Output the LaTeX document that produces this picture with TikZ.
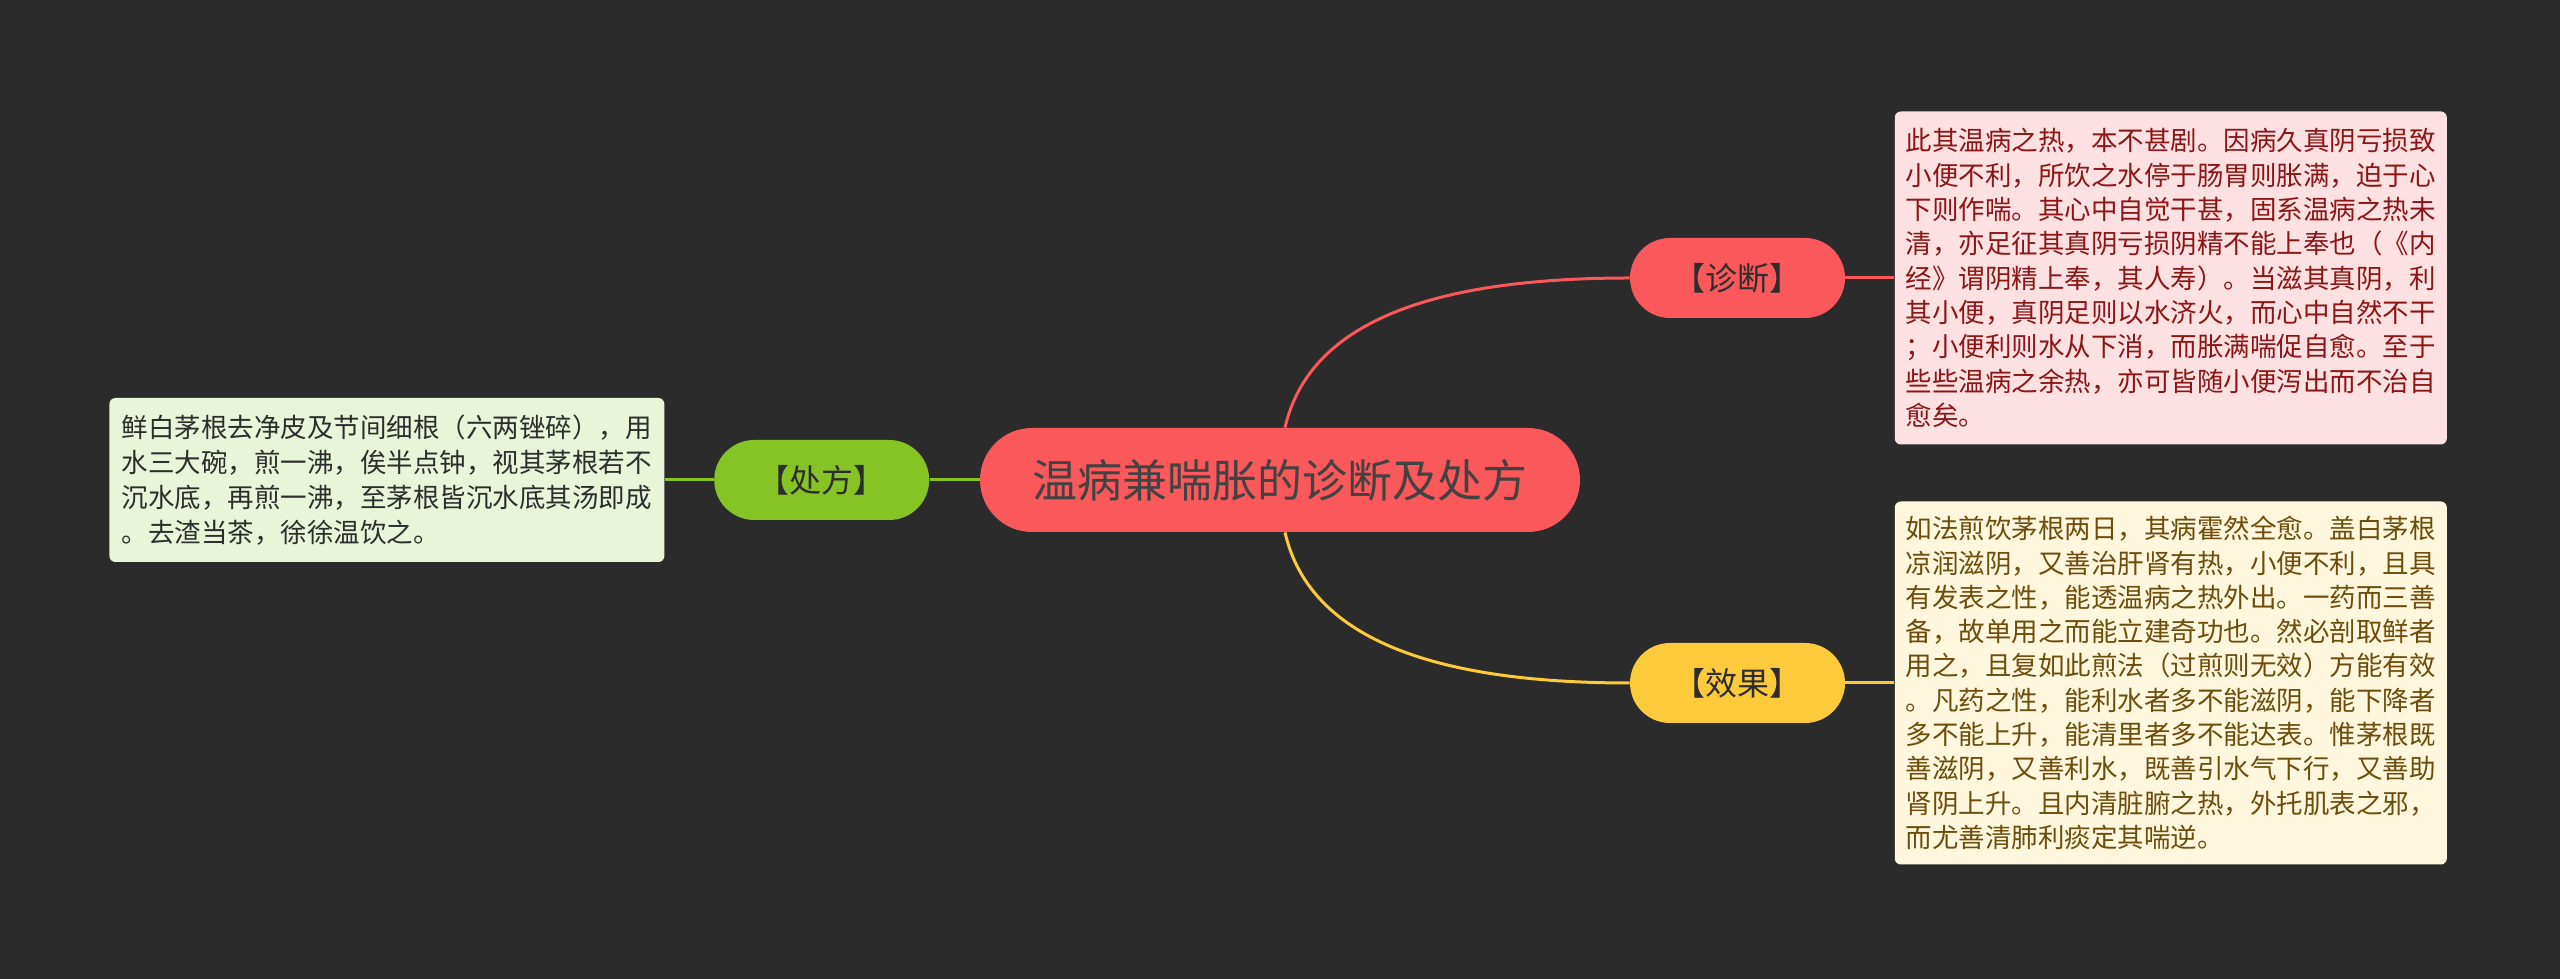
\documentclass[tikz,border=0pt]{standalone}
\usepackage{fontspec}
\setmainfont{Noto Sans CJK SC}
\usetikzlibrary{positioning}

\definecolor{fondo}{RGB}{43,43,43}
\definecolor{rojo}{RGB}{250,88,90}
\definecolor{amarillo}{RGB}{252,202,58}
\definecolor{verde}{RGB}{134,196,38}
\definecolor{rosa}{RGB}{253,225,226}
\definecolor{crema}{RGB}{254,247,221}
\definecolor{verdeclaro}{RGB}{232,245,216}
\definecolor{rojooscuro}{RGB}{140,22,22}
\definecolor{marron}{RGB}{110,76,12}
\definecolor{gris}{RGB}{45,45,45}

\begin{document}
\begin{tikzpicture}[x=1pt, y=1pt,
    tema/.style={rectangle, rounded corners=26pt, fill=rojo, text=gris!90, minimum width=300pt, minimum height=52pt, inner sep=0pt, font=\fontsize{22.5pt}{27pt}\selectfont},
    rama/.style={rectangle, rounded corners=20pt, text=gris, minimum width=107.5pt, minimum height=40pt, inner sep=0pt, font=\fontsize{16pt}{19pt}\selectfont},
    nota/.style={rectangle, rounded corners=3pt, align=left, minimum width=276pt, inner xsep=5.5pt, inner ysep=0pt, font=\fontsize{13.25pt}{17.15pt}\selectfont},
    linea/.style={line width=1.5pt}]

  % Fondo
  \fill[fondo] (0,0) rectangle (1280,489.5);

  % Nodo central
  \node[tema] (tema) at (640,249.5) {温病兼喘胀的诊断及处方};

  % Ramas
  \node[rama, fill=rojo] (diag) at (868.75,350.5) {【诊断】};
  \node[rama, fill=amarillo] (efecto) at (868.75,148) {【效果】};
  \node[rama, fill=verde, left=25pt of tema] (receta) {【处方】};

  % Notas
  \node[nota, fill=rosa, text=rojooscuro, minimum height=166.5pt, right=24.5pt of diag] (notadiag) {%
此其温病之热，本不甚剧。因病久真阴亏损致\\
小便不利，所饮之水停于肠胃则胀满，迫于心\\
下则作喘。其心中自觉干甚，固系温病之热未\\
清，亦足征其真阴亏损阴精不能上奉也（《内\\
经》谓阴精上奉，其人寿）。当滋其真阴，利\\
其小便，真阴足则以水济火，而心中自然不干\\
；小便利则水从下消，而胀满喘促自愈。至于\\
些些温病之余热，亦可皆随小便泻出而不治自\\
愈矣。};
  \node[nota, fill=crema, text=marron, minimum height=181.5pt, right=24.5pt of efecto] (notaefecto) {%
如法煎饮茅根两日，其病霍然全愈。盖白茅根\\
凉润滋阴，又善治肝肾有热，小便不利，且具\\
有发表之性，能透温病之热外出。一药而三善\\
备，故单用之而能立建奇功也。然必剖取鲜者\\
用之，且复如此煎法（过煎则无效）方能有效\\
。凡药之性，能利水者多不能滋阴，能下降者\\
多不能上升，能清里者多不能达表。惟茅根既\\
善滋阴，又善利水，既善引水气下行，又善助\\
肾阴上升。且内清脏腑之热，外托肌表之邪，\\
而尤善清肺利痰定其喘逆。};
  \node[nota, fill=verdeclaro, text=gris, minimum width=277.5pt, minimum height=82pt, font=\fontsize{13.25pt}{17.4pt}\selectfont, left=24.5pt of receta] (notareceta) {%
鲜白茅根去净皮及节间细根（六两锉碎），用\\
水三大碗，煎一沸，俟半点钟，视其茅根若不\\
沉水底，再煎一沸，至茅根皆沉水底其汤即成\\
。去渣当茶，徐徐温饮之。};

  % Conexiones curvas
  \draw[linea, rojo] ([xshift=2.5pt]tema.north) .. controls +(12.5,54.5) and +(-95,0) .. (diag.west);
  \draw[linea, amarillo] ([xshift=2.5pt]tema.south) .. controls +(12.5,-54.5) and +(-95,0) .. (efecto.west);

  % Conexiones rectas
  \draw[linea, rojo] (diag.east) -- (notadiag.west);
  \draw[linea, amarillo] (efecto.east) -- (notaefecto.west);
  \draw[linea, verde] (tema.west) -- (receta.east);
  \draw[linea, verde] (receta.west) -- (notareceta.east);

\end{tikzpicture}
\end{document}
